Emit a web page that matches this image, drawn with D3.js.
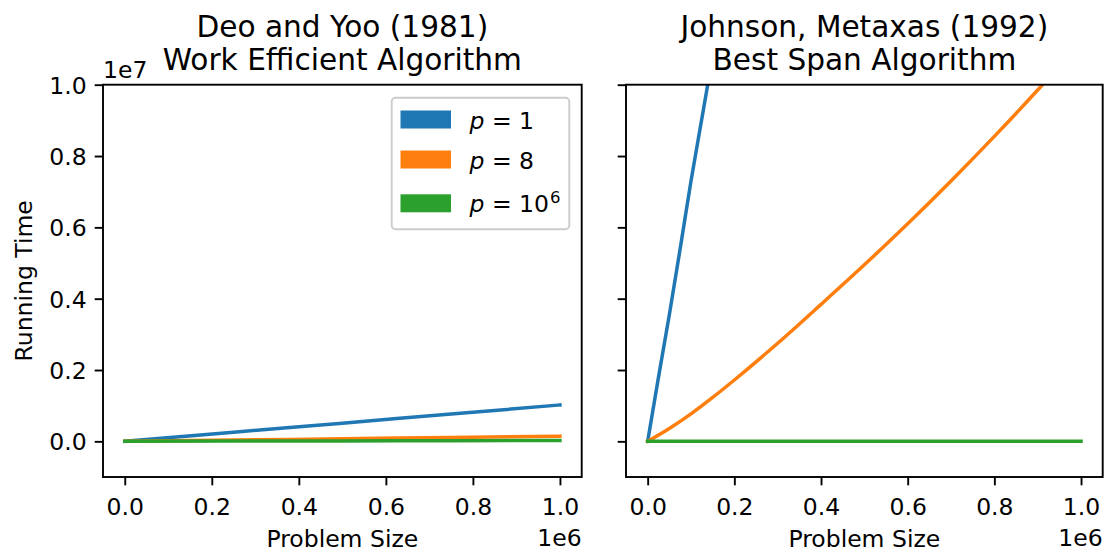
<!DOCTYPE html>
<html>
<head>
<meta charset="utf-8">
<script src="https://cdn.jsdelivr.net/npm/d3@7"></script>
<style>
  html, body { margin: 0; padding: 0; background: #fff; }
  svg { display: block; font-family: "DejaVu Sans", sans-serif; }
</style>
</head>
<body>
<svg id="chart" width="1107" height="551"></svg>
<script>
// Problem sizes and running times, Deo and Yoo (1981)
const deoSizes = [0, 250000, 500000, 750000, 1000000];
const deoP1 = [0, 255000, 510000, 765000, 1020000];
const deoP8 = [0, 36500, 73000, 109500, 146000];
const deoPMillion = [0, 6000, 12000, 19000, 25000];

// Johnson, Metaxas (1992)
const jmP1Sizes = [0, 25000, 50000, 75000, 100000, 125000, 150000];
const jmP1 = [0, 1800000, 3550000, 5400000, 7300000, 9050000, 10800000];
const jmSizes = [0, 50000, 100000, 150000, 200000, 300000, 400000, 500000, 600000, 700000, 800000, 900000, 1000000];
const jmP8 = [0, 360000, 770000, 1230000, 1720000, 2750000, 3840000, 4950000, 6100000, 7300000, 8550000, 9850000, 11200000];
const jmPMillion = [0, 0, 0, 0, 0, 0, 0, 0, 0, 0, 0, 0, 0];

const xTicks = [0, 200000, 400000, 600000, 800000, 1000000];
const yTicks = [0, 2000000, 4000000, 6000000, 8000000, 10000000];
const seriesNames = ["p = 1", "p = 8", "p = 10^6"];
const colors = ["#1f77b4", "#ff7f0e", "#2ca02c"];

const panels = [
  { title: ["Deo and Yoo (1981)", "Work Efficient Algorithm"], left: 103, right: 581.7,
    series: [[deoSizes, deoP1], [deoSizes, deoP8], [deoSizes, deoPMillion]], yLabels: true, legend: true },
  { title: ["Johnson, Metaxas (1992)", "Best Span Algorithm"], left: 626, right: 1102.7,
    series: [[jmP1Sizes, jmP1], [jmSizes, jmP8], [jmSizes, jmPMillion]], yLabels: false, legend: false }
];

const plotTop = 84.7, plotBottom = 477;
const tickFont = 23.5, titleFont = 29.6, labelFont = 23.5;
const svg = d3.select("#chart");
svg.append("rect").attr("width", 1107).attr("height", 551).attr("fill", "#fff");

const y = d3.scaleLinear().domain([-1000000, 10000000]).range([plotBottom, plotTop]);

panels.forEach((p, i) => {
  const x = d3.scaleLinear().domain([-50000, 1050000]).range([p.left, p.right]);
  const g = svg.append("g");
  const clipId = "clip" + i;
  svg.append("clipPath").attr("id", clipId).append("rect")
    .attr("x", p.left).attr("y", plotTop).attr("width", p.right - p.left).attr("height", plotBottom - plotTop);

  const line = d3.line().curve(d3.curveMonotoneX).x(d => x(d[0])).y(d => y(d[1]));
  p.series.forEach((s, k) => {
    const pts = s[0].map((v, j) => [v, s[1][j]]);
    g.append("path").datum(pts).attr("d", line)
      .attr("fill", "none").attr("stroke", colors[k]).attr("stroke-width", 3.5)
      .attr("stroke-linecap", "square").attr("stroke-linejoin", "round")
      .attr("clip-path", `url(#${clipId})`);
  });

  // x axis
  const xa = g.append("g").attr("transform", `translate(0,${plotBottom})`)
    .call(d3.axisBottom(x).tickValues(xTicks).tickSize(8.3).tickSizeOuter(0)
      .tickFormat(d => (d / 1e6).toFixed(1)));
  xa.select(".domain").remove();
  xa.selectAll(".tick line").attr("stroke", "#000").attr("stroke-width", 1.9);
  xa.selectAll(".tick text").attr("y", 38).attr("dy", null)
    .attr("font-size", tickFont).attr("font-family", "DejaVu Sans").attr("fill", "#000");

  // y axis
  const ya = g.append("g").attr("transform", `translate(${p.left},0)`)
    .call(d3.axisLeft(y).tickValues(yTicks).tickSize(8.3).tickSizeOuter(0).tickPadding(8)
      .tickFormat(d => (d / 1e7).toFixed(1)));
  ya.select(".domain").remove();
  ya.selectAll(".tick line").attr("stroke", "#000").attr("stroke-width", 1.9);
  ya.selectAll(".tick text").attr("dy", "0.36em")
    .attr("font-size", tickFont).attr("font-family", "DejaVu Sans").attr("fill", "#000");
  if (!p.yLabels) ya.selectAll(".tick text").remove();

  // frame
  g.append("rect").attr("x", p.left).attr("y", plotTop)
    .attr("width", p.right - p.left).attr("height", plotBottom - plotTop)
    .attr("fill", "none").attr("stroke", "#000").attr("stroke-width", 1.9);

  // title
  const cx = (p.left + p.right) / 2;
  p.title.forEach((t, j) => {
    g.append("text").attr("x", cx).attr("y", 36.5 + j * 33.5)
      .attr("text-anchor", "middle").attr("font-size", titleFont).attr("fill", "#000").text(t);
  });

  // x label and offset text
  g.append("text").attr("x", cx).attr("y", 546.5).attr("text-anchor", "middle")
    .attr("font-size", labelFont).attr("fill", "#000").text("Problem Size");
  g.append("text").attr("x", p.right).attr("y", 546).attr("text-anchor", "end")
    .attr("font-size", tickFont).attr("fill", "#000").text("1e6");

  if (p.yLabels) {
    g.append("text").attr("x", p.left).attr("y", 78).attr("font-size", tickFont)
      .attr("fill", "#000").text("1e7");
    g.append("text").attr("transform", `translate(31.5,${(plotTop + plotBottom) / 2}) rotate(-90)`)
      .attr("text-anchor", "middle").attr("font-size", labelFont).attr("fill", "#000")
      .text("Running Time");
  }

  if (p.legend) {
    const lg = g.append("g");
    lg.append("rect").attr("x", 391.7).attr("y", 97.7).attr("width", 177.6).attr("height", 131.6)
      .attr("rx", 4).attr("fill", "#fff").attr("fill-opacity", 0.8)
      .attr("stroke", "#cccccc").attr("stroke-width", 1.9);
    const rowY = [119.5, 159.5, 203.3];
    seriesNames.forEach((name, k) => {
      lg.append("rect").attr("x", 400.5).attr("y", rowY[k] - 9).attr("width", 50.5).attr("height", 18)
        .attr("fill", colors[k]);
      const parts = name.split(" ");
      const t = lg.append("text").attr("x", 469.5).attr("y", rowY[k] + 9)
        .attr("font-size", tickFont).attr("fill", "#000");
      t.append("tspan").attr("font-style", "italic").text(parts[0]);
      t.append("tspan").text(" = ");
      const val = parts[2];
      if (val.includes("^")) {
        const [base, exp] = val.split("^");
        t.append("tspan").text(base);
        t.append("tspan").attr("font-size", 16.5).attr("dy", -9.5).attr("dx", 1).text(exp);
      } else {
        t.append("tspan").text(val);
      }
    });
  }
});
</script>
</body>
</html>
